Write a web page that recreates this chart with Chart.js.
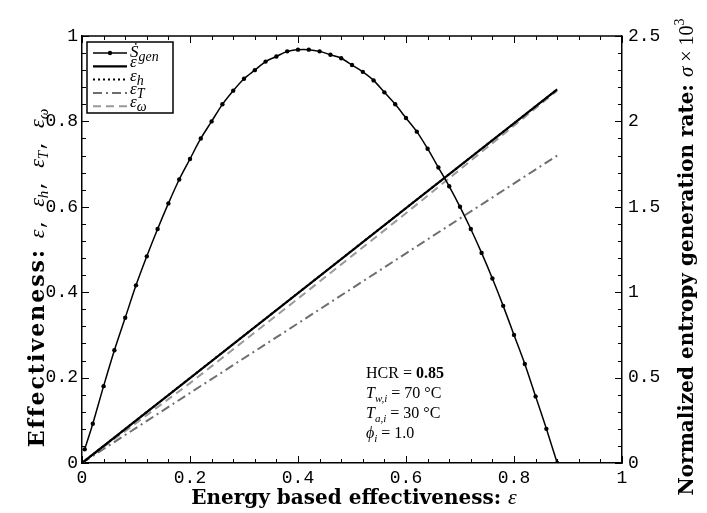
<!DOCTYPE html>
<html>
<head>
<meta charset="utf-8">
<script src="https://cdn.jsdelivr.net/npm/chart.js@4.4.0/dist/chart.umd.min.js"></script>
<style>
  html, body { margin: 0; padding: 0; background: #fff; }
  #wrap { width: 707px; height: 513px; position: relative; }
</style>
</head>
<body>
<div id="wrap"><canvas id="chart"></canvas></div>
<script>
// entropy generation (right axis, sigma x 10^3) vs energy effectiveness
var sgenEps = [0.005, 0.02, 0.04, 0.06, 0.08, 0.10, 0.12, 0.14, 0.16, 0.18, 0.20,
  0.22, 0.24, 0.26, 0.28, 0.30, 0.32, 0.34, 0.36, 0.38, 0.40, 0.42, 0.44, 0.46,
  0.48, 0.50, 0.52, 0.54, 0.56, 0.58, 0.60, 0.62, 0.64, 0.66, 0.68, 0.70, 0.72,
  0.74, 0.76, 0.78, 0.80, 0.82, 0.84, 0.86, 0.88];
var sgenSigma = [0.08, 0.23, 0.45, 0.66, 0.85, 1.04, 1.21, 1.37, 1.52, 1.66, 1.78,
  1.90, 2.00, 2.10, 2.18, 2.25, 2.30, 2.35, 2.38, 2.41, 2.42, 2.42, 2.41, 2.39,
  2.37, 2.33, 2.29, 2.24, 2.17, 2.10, 2.02, 1.94, 1.84, 1.73, 1.62, 1.50, 1.37,
  1.23, 1.08, 0.92, 0.75, 0.58, 0.39, 0.20, 0.00];

// effectiveness lines (left axis)
var lineEps = [0, 0.2, 0.4, 0.6, 0.88];
var effE = [0, 0.199, 0.398, 0.597, 0.875];
var effH = [0, 0.199, 0.398, 0.597, 0.875];
var effT = [0, 0.164, 0.327, 0.491, 0.72];
var effW = [0, 0.187, 0.385, 0.585, 0.872];

var SERIF = '"Liberation Serif", "DejaVu Serif", serif';
var WIDE = '"DejaVu Serif", serif';
var MONO = '"Liberation Mono", "DejaVu Sans Mono", monospace';

function pts(xs, ys) {
  return xs.map(function (x, i) { return { x: x, y: ys[i] }; });
}

// draw a run of text pieces with their own fonts / vertical offsets
function drawParts(ctx, parts, x, y, align) {
  var total = 0;
  parts.forEach(function (p) {
    ctx.font = p.f;
    ctx.letterSpacing = p.ls || '0px';
    total += ctx.measureText(p.t).width;
  });
  var cx = align === 'center' ? x - total / 2 : x;
  parts.forEach(function (p) {
    ctx.font = p.f;
    ctx.letterSpacing = p.ls || '0px';
    ctx.fillText(p.t, cx, y + (p.dy || 0));
    cx += ctx.measureText(p.t).width;
  });
  ctx.letterSpacing = '0px';
}

function it(sz) { return 'italic ' + sz + 'px ' + SERIF; }
function rm(sz) { return sz + 'px ' + SERIF; }
function bd(sz) { return 'bold ' + sz + 'px ' + SERIF; }
function wb(sz) { return 'bold ' + sz + 'px ' + WIDE; }
function mo(sz) { return sz + 'px ' + MONO; }

function fmtTick(v) {
  return String(Math.round(v * 10) / 10);
}

var legendLabels = [
  [{ t: '\u1E60', f: it(17), dy: 4 }, { t: 'gen', f: it(14), dy: 8 }],
  [{ t: '\u03B5', f: it(17), dy: 1 }],
  [{ t: '\u03B5', f: it(17), dy: 1 }, { t: 'h', f: it(14), dy: 5 }],
  [{ t: '\u03B5', f: it(17), dy: 1 }, { t: 'T', f: it(14), dy: 5 }],
  [{ t: '\u03B5', f: it(17), dy: 1 }, { t: '\u03C9', f: it(14), dy: 5 }]
];

var frame = {
  id: 'frame',
  afterDraw: function (chart) {
    var ctx = chart.ctx, a = chart.chartArea;
    var sx = chart.scales.x, sy = chart.scales.y, sy2 = chart.scales.y2;
    ctx.save();
    ctx.strokeStyle = '#000';
    ctx.lineWidth = 1.5;
    ctx.beginPath();
    ctx.moveTo(a.left, a.top);
    ctx.lineTo(a.right, a.top);
    ctx.stroke();

    // inward tick marks
    ctx.lineWidth = 1;
    var i, p, len;
    for (i = 0; i <= 25; i++) {
      p = Math.round(sx.getPixelForValue(i * 0.04)) + 0.5;
      len = i % 5 === 0 ? 7 : 4;
      ctx.beginPath();
      ctx.moveTo(p, a.bottom); ctx.lineTo(p, a.bottom - len);
      ctx.moveTo(p, a.top); ctx.lineTo(p, a.top + len);
      ctx.stroke();
      p = Math.round(sy.getPixelForValue(i * 0.04)) + 0.5;
      ctx.beginPath();
      ctx.moveTo(a.left, p); ctx.lineTo(a.left + len, p);
      ctx.stroke();
      p = Math.round(sy2.getPixelForValue(i * 0.1)) + 0.5;
      ctx.beginPath();
      ctx.moveTo(a.right, p); ctx.lineTo(a.right - len, p);
      ctx.stroke();
    }

    // legend
    var lx = a.left + 5, ly = a.top + 6, lw = 86, lh = 71;
    ctx.fillStyle = '#fff';
    ctx.fillRect(lx, ly, lw, lh);
    ctx.lineWidth = 1.5;
    ctx.strokeStyle = '#000';
    ctx.strokeRect(lx, ly, lw, lh);
    chart.data.datasets.forEach(function (ds, k) {
      var ry = ly + 11 + k * 13.3;
      ctx.save();
      ctx.strokeStyle = ds.borderColor;
      ctx.lineWidth = ds.borderWidth;
      ctx.setLineDash(ds.borderDash || []);
      ctx.beginPath();
      ctx.moveTo(lx + 6, ry); ctx.lineTo(lx + 40, ry);
      ctx.stroke();
      if (ds.pointRadius) {
        ctx.fillStyle = ds.borderColor;
        ctx.beginPath();
        ctx.arc(lx + 23, ry, ds.pointRadius, 0, Math.PI * 2);
        ctx.fill();
      }
      ctx.restore();
      ctx.fillStyle = '#000';
      ctx.textBaseline = 'alphabetic';
      drawParts(ctx, legendLabels[k], lx + 43, ry, 'left');
    });

    // annotation
    ctx.fillStyle = '#000';
    var ax = 366;
    drawParts(ctx, [{ t: 'HCR = ', f: rm(16) }, { t: '0.85', f: bd(16) }], ax, 378, 'left');
    drawParts(ctx, [{ t: 'T', f: it(16) }, { t: 'w,i', f: it(11), dy: 4 }, { t: ' = 70 \u00B0C', f: rm(16) }], ax, 398, 'left');
    drawParts(ctx, [{ t: 'T', f: it(16) }, { t: 'a,i', f: it(11), dy: 4 }, { t: ' = 30 \u00B0C', f: rm(16) }], ax, 418, 'left');
    drawParts(ctx, [{ t: '\u03D5', f: it(16) }, { t: 'i', f: it(11), dy: 4 }, { t: ' = 1.0', f: rm(16) }], ax, 438, 'left');

    // axis titles
    drawParts(ctx, [{ t: 'Energy based effectiveness: ', f: wb(20) }, { t: '\u03B5', f: it(22) }],
      354, 504, 'center');

    ctx.save();
    ctx.translate(44, 278);
    ctx.rotate(-Math.PI / 2);
    drawParts(ctx, [
      { t: 'Effectiveness: ', f: wb(22), ls: '2px' },
      { t: '\u03B5', f: it(22) }, { t: ', ', f: mo(19) },
      { t: '\u03B5', f: it(22) }, { t: 'h', f: it(15), dy: 4 }, { t: ', ', f: mo(19) },
      { t: '\u03B5', f: it(22) }, { t: 'T', f: it(15), dy: 4 }, { t: ', ', f: mo(19) },
      { t: '\u03B5', f: it(22) }, { t: '\u03C9', f: it(15), dy: 4 }
    ], 0, 0, 'center');
    ctx.restore();

    ctx.save();
    ctx.translate(693, 257);
    ctx.rotate(-Math.PI / 2);
    drawParts(ctx, [
      { t: 'Normalized entropy generation rate: ', f: wb(20) },
      { t: '\u03C3', f: it(21) }, { t: ' \u00D7 10', f: rm(20) },
      { t: '3', f: rm(14), dy: -9 }
    ], 0, 0, 'center');
    ctx.restore();

    ctx.restore();
  }
};

var tickFont = { family: MONO, size: 18 };

new Chart(document.getElementById('chart'), {
  type: 'line',
  data: {
    datasets: [
      {
        label: 'Sgen',
        data: pts(sgenEps, sgenSigma),
        yAxisID: 'y2',
        borderColor: '#000',
        borderWidth: 1.5,
        pointRadius: 2.2,
        pointBackgroundColor: '#000',
        pointBorderWidth: 0,
        tension: 0.3
      },
      {
        label: 'eps',
        data: pts(lineEps, effE),
        yAxisID: 'y',
        borderColor: '#000',
        borderWidth: 2.2,
        pointRadius: 0
      },
      {
        label: 'eps_h',
        data: pts(lineEps, effH),
        yAxisID: 'y',
        borderColor: '#000',
        borderWidth: 2,
        borderDash: [2, 3],
        pointRadius: 0
      },
      {
        label: 'eps_T',
        data: pts(lineEps, effT),
        yAxisID: 'y',
        borderColor: '#6e6e6e',
        borderWidth: 2,
        borderDash: [9, 4, 2, 4],
        pointRadius: 0
      },
      {
        label: 'eps_w',
        data: pts(lineEps, effW),
        yAxisID: 'y',
        borderColor: '#999',
        borderWidth: 2,
        borderDash: [8, 5],
        pointRadius: 0
      }
    ]
  },
  options: {
    responsive: true,
    maintainAspectRatio: false,
    animation: false,
    layout: { padding: { top: 36, left: 0, right: 0, bottom: 0 } },
    plugins: { legend: { display: false }, tooltip: { enabled: false } },
    scales: {
      x: {
        type: 'linear',
        min: 0, max: 1,
        grid: { display: false, drawTicks: false },
        border: { display: true, color: '#000', width: 1.5 },
        ticks: { stepSize: 0.2, color: '#000', font: tickFont, padding: 4, maxRotation: 0, callback: fmtTick },
        afterFit: function (s) { s.height = 50; }
      },
      y: {
        position: 'left',
        min: 0, max: 1,
        grid: { display: false, drawTicks: false },
        border: { display: true, color: '#000', width: 1.5 },
        ticks: { stepSize: 0.2, color: '#000', font: tickFont, padding: 4, callback: fmtTick },
        afterFit: function (s) { s.width = 82; }
      },
      y2: {
        position: 'right',
        min: 0, max: 2.5,
        grid: { display: false, drawTicks: false },
        border: { display: true, color: '#000', width: 1.5 },
        ticks: { stepSize: 0.5, color: '#000', font: tickFont, padding: 6, callback: fmtTick },
        afterFit: function (s) { s.width = 85; }
      }
    }
  },
  plugins: [frame]
});
</script>
</body>
</html>
